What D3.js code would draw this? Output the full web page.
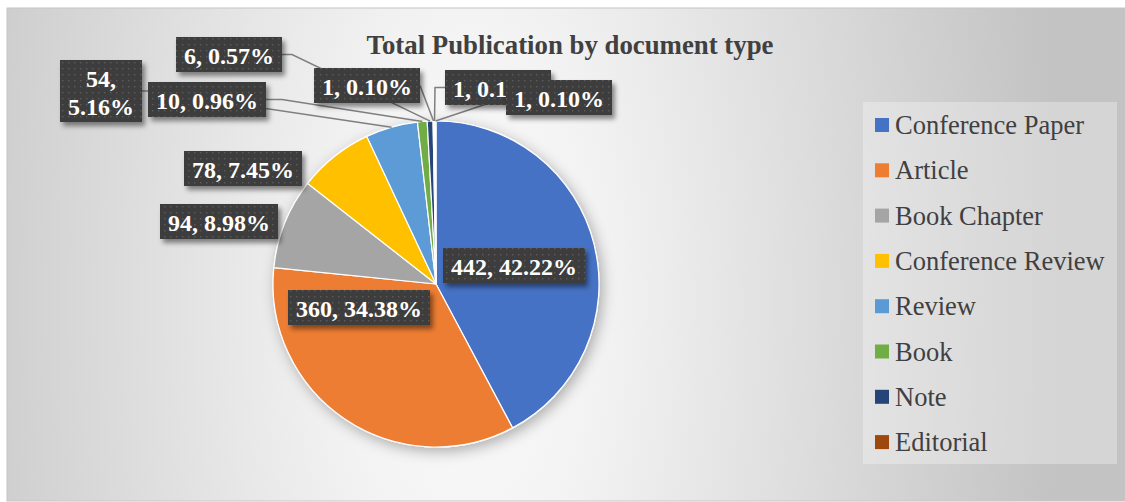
<!DOCTYPE html>
<html>
<head>
<meta charset="utf-8">
<script src="https://cdn.jsdelivr.net/npm/d3@7"></script>
<style>
  html, body { margin: 0; padding: 0; background: #ffffff; }
  svg { display: block; }
</style>
</head>
<body>
<svg id="chart" width="1125" height="502"></svg>
<script>
// Document types shown in the legend (the last two slices have no legend row)
const categories = ["Conference Paper", "Article", "Book Chapter", "Conference Review",
                    "Review", "Book", "Note", "Editorial"];
// Publication counts per document type, in slice order
const counts = [442, 360, 94, 78, 54, 10, 6, 1, 1, 1];

// Office-style slice colours
const palette = ["#4472C4", "#ED7D31", "#A5A5A5", "#FFC000", "#5B9BD5",
                 "#70AD47", "#264478", "#9E480E", "#636363", "#997300"];

// Label box placement: top-left corner, optional leader start side and horizontal run
const labelLayout = [
  { x: 443, y: 248 },
  { x: 288, y: 290 },
  { x: 160, y: 204 },
  { x: 184, y: 151 },
  { x: 60,  y: 60,  wrap: true, side: "right", run: 6 },
  { x: 148, y: 82,  side: "right", run: 16 },
  { x: 176, y: 37,  side: "right", run: 10 },
  { x: 314, y: 68,  side: "right", run: 0 },
  { x: 445, y: 70,  side: "left",  run: -10 },
  { x: 506, y: 80,  side: "left",  run: 0 }
];

const W = 1125, H = 502;
const cx = 436, cy = 284, R = 163;
const svg = d3.select("#chart");
const defs = svg.append("defs");

// Background: soft radial sheen
const bg = defs.append("radialGradient")
  .attr("id", "bgGrad")
  .attr("gradientUnits", "userSpaceOnUse")
  .attr("cx", 470).attr("cy", 300).attr("r", 590)
  .attr("gradientTransform", "translate(470,300) scale(1,2.2) translate(-470,-300)");
bg.append("stop").attr("offset", 0).attr("stop-color", "#fbfbfb");
bg.append("stop").attr("offset", 0.22).attr("stop-color", "#f3f3f3");
bg.append("stop").attr("offset", 1).attr("stop-color", "#c3c3c3");

// Dotted dark fill for the data label boxes
const pat = defs.append("pattern")
  .attr("id", "dots").attr("patternUnits", "userSpaceOnUse")
  .attr("width", 6).attr("height", 6);
pat.append("rect").attr("width", 6).attr("height", 6).attr("fill", "#3e3e3e");
pat.append("rect").attr("x", 2).attr("y", 2).attr("width", 1.4).attr("height", 1.4).attr("fill", "#5c5c5c");

const boxShadow = defs.append("filter").attr("id", "boxShadow")
  .attr("x", "-20%").attr("y", "-30%").attr("width", "150%").attr("height", "180%");
boxShadow.append("feDropShadow").attr("dx", 3).attr("dy", 4).attr("stdDeviation", 2.5)
  .attr("flood-color", "#000").attr("flood-opacity", 0.45);

const pieShadow = defs.append("filter").attr("id", "pieShadow")
  .attr("x", "-20%").attr("y", "-20%").attr("width", "140%").attr("height", "140%");
pieShadow.append("feDropShadow").attr("dx", 3).attr("dy", 4).attr("stdDeviation", 7)
  .attr("flood-color", "#000").attr("flood-opacity", 0.3);

// Chart area
svg.append("rect")
  .attr("x", 7).attr("y", 8).attr("width", W - 7).attr("height", 493)
  .attr("fill", "url(#bgGrad)")
  .attr("stroke", "#c6c6c6").attr("stroke-width", 1);

// Title
svg.append("text")
  .attr("x", 570).attr("y", 54)
  .attr("text-anchor", "middle")
  .attr("font-family", "'Liberation Serif', 'Times New Roman', serif")
  .attr("font-weight", "bold")
  .attr("font-size", 26.8)
  .attr("fill", "#404040")
  .text("Total Publication by document type");

// Pie
const pie = d3.pie().sort(null).value(d => d);
const arcs = pie(counts);
const arc = d3.arc().innerRadius(0).outerRadius(R);
const total = d3.sum(counts);

const pieG = svg.append("g")
  .attr("transform", `translate(${cx},${cy})`)
  .attr("filter", "url(#pieShadow)");
pieG.selectAll("path")
  .data(arcs)
  .join("path")
  .attr("d", arc)
  .attr("fill", (d, i) => palette[i])
  .attr("stroke", "#ffffff")
  .attr("stroke-width", 1.2)
  .attr("stroke-linejoin", "round");

// Labels
const fmtPct = d3.format(".2%");
const labelText = (d) => `${d.data}, ${fmtPct(d.data / total)}`;
const labelFont = "'Liberation Serif', 'Times New Roman', serif";

const lineG = svg.append("g");
const boxG = svg.append("g");

arcs.forEach((d, i) => {
  const L = labelLayout[i];
  const full = labelText(d);
  const lines = L.wrap ? [`${d.data},`, fmtPct(d.data / total)] : [full];

  const g = boxG.append("g");
  const rect = g.append("rect")
    .attr("fill", "url(#dots)")
    .attr("filter", "url(#boxShadow)");
  const texts = lines.map((s, k) => g.append("text")
    .attr("font-family", labelFont)
    .attr("font-weight", "bold")
    .attr("font-size", 24)
    .attr("fill", "#ffffff")
    .attr("text-anchor", "middle")
    .text(s));
  const tw = d3.max(texts, t => t.node().getComputedTextLength());
  const bw = Math.round(tw + 16);
  const bh = lines.length === 1 ? 35 : 62;
  rect.attr("x", L.x).attr("y", L.y).attr("width", bw).attr("height", bh);
  texts.forEach((t, k) => t
    .attr("x", L.x + bw / 2)
    .attr("y", L.y + (lines.length === 1 ? 26.5 : 27 + k * 28)));

  if (L.side) {
    const a = (d.startAngle + d.endAngle) / 2;
    const px = cx + R * Math.sin(a), py = cy - R * Math.cos(a);
    const sx = L.side === "right" ? L.x + bw : L.x;
    const sy = L.y + bh / 2;
    const pts = [[sx, sy]];
    if (L.run) pts.push([sx + L.run, sy]);
    pts.push([px, py]);
    lineG.append("path")
      .attr("d", d3.line()(pts))
      .attr("fill", "none")
      .attr("stroke", "#7f7f7f")
      .attr("stroke-width", 1.5);
  }
});

// Legend
const legG = svg.append("g");
legG.append("rect")
  .attr("x", 863).attr("y", 102).attr("width", 254).attr("height", 362)
  .attr("fill", "#ffffff").attr("fill-opacity", 0.3);
const rows = legG.selectAll("g.row")
  .data(categories)
  .join("g")
  .attr("class", "row")
  .attr("transform", (d, i) => `translate(875,${125 + i * 45.3})`);
rows.append("rect")
  .attr("x", 0).attr("y", -7).attr("width", 14).attr("height", 14)
  .attr("fill", (d, i) => palette[i]);
rows.append("text")
  .attr("x", 20).attr("y", 9)
  .attr("font-family", labelFont)
  .attr("font-size", 26.5)
  .attr("fill", "#404040")
  .text(d => d);
</script>
</body>
</html>
